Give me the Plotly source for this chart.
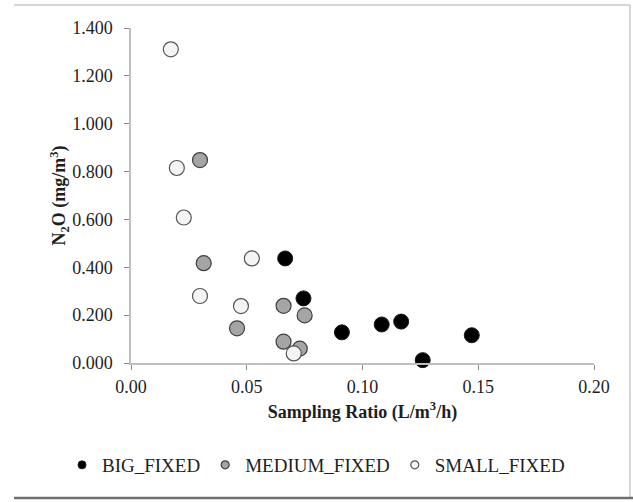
import plotly.graph_objects as go

# Sampling ratio (L/m3/h) and N2O concentration (mg/m3) per chamber size
big_x = [0.0666, 0.0745, 0.0911, 0.1083, 0.1167, 0.1472, 0.1260]
big_y = [0.437, 0.270, 0.128, 0.161, 0.173, 0.116, 0.012]

medium_x = [0.0298, 0.0314, 0.0659, 0.0750, 0.0458, 0.0659, 0.0729]
medium_y = [0.848, 0.417, 0.239, 0.199, 0.145, 0.089, 0.060]

small_x = [0.0172, 0.0198, 0.0228, 0.0522, 0.0298, 0.0475, 0.0703]
small_y = [1.311, 0.815, 0.608, 0.437, 0.280, 0.238, 0.040]

series_names = ["BIG_FIXED", "MEDIUM_FIXED", "SMALL_FIXED"]
x_ticks = [0.00, 0.05, 0.10, 0.15, 0.20]
y_ticks = [0.0, 0.2, 0.4, 0.6, 0.8, 1.0, 1.2, 1.4]

styles = [
    dict(color="#000000", line=dict(color="#1a1a1a", width=1)),
    dict(color="#a5a5a5", line=dict(color="#3f3f3f", width=1.2)),
    dict(color="#f4f4f4", line=dict(color="#555555", width=1.2)),
]
data = [(big_x, big_y), (medium_x, medium_y), (small_x, small_y)]

SERIF = "Liberation Serif"
TEXT = "#1e1e1e"

fig = go.Figure()
for name, (xs, ys), st in zip(series_names, data, styles):
    fig.add_trace(go.Scatter(
        x=xs, y=ys, mode="markers", name=name, showlegend=False,
        cliponaxis=False,
        marker=dict(size=15, color=st["color"], line=st["line"]),
    ))
    # small legend swatch
    fig.add_trace(go.Scatter(
        x=[None], y=[None], mode="markers", name=name,
        marker=dict(size=8, color=st["color"], line=st["line"]),
    ))

# plot area: x 131..594 px, y 28..363 px
L, R, T, B = 131, 594, 28, 363
W, H = R - L, B - T


def px(x):
    return (x - L) / W


def py(y):
    return (B - y) / H


frame = [
    (14, 5, 630, 5, "#c8c8c8", 1.5),
    (630, 5, 630, 498, "#c8c8c8", 1.5),
    (14, 498, 633, 498, "#707070", 2.5),
]
for x0, y0, x1, y1, c, w in frame:
    fig.add_shape(type="line", xref="paper", yref="paper",
                  x0=px(x0), y0=py(y0), x1=px(x1), y1=py(y1),
                  line=dict(color=c, width=w))

axis_common = dict(
    showgrid=False, zeroline=False, showline=True,
    linecolor="#bfbfbf", linewidth=1.5,
    ticks="outside", ticklen=5, tickcolor="#8c8c8c", tickwidth=1,
    tickfont=dict(family=SERIF, size=18, color=TEXT),
)

fig.update_layout(
    width=633, height=502,
    margin=dict(l=L, r=633 - R, t=T, b=502 - B),
    paper_bgcolor="white", plot_bgcolor="white",
    xaxis=dict(range=[0, 0.2], tickvals=x_ticks, tickformat=".2f",
               ticklabelstandoff=2,
               title=dict(text="<b>Sampling Ratio (L/m<sup>3</sup>/h)</b>",
                          font=dict(family=SERIF, size=18, color=TEXT),
                          standoff=9),
               **axis_common),
    yaxis=dict(range=[0, 1.4], tickvals=y_ticks, tickformat=".3f",
               ticklabelstandoff=8,
               title=dict(text="<b>N<sub>2</sub>O (mg/m<sup>3</sup>)</b>",
                          font=dict(family=SERIF, size=18, color=TEXT),
                          standoff=0),
               **axis_common),
    legend=dict(orientation="h", x=px(62), xanchor="left",
                y=py(465), yanchor="middle",
                font=dict(family=SERIF, size=19, color=TEXT),
                itemwidth=30, bgcolor="rgba(0,0,0,0)"),
    showlegend=True,
)

fig.write_html("out.html")
